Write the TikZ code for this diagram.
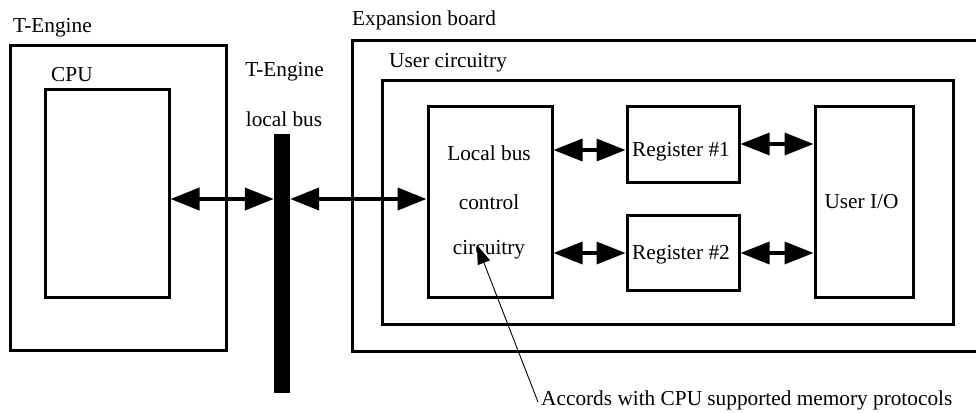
\documentclass[tikz,border=0pt]{standalone}
\usepackage{fontspec}
\setmainfont{Liberation Serif}
\usetikzlibrary{arrows.meta}
\begin{document}
\begin{tikzpicture}[x=1pt,y=-1pt,
  box/.style={draw, line width=3pt, inner sep=0pt},
  txt/.style={inner sep=0pt, font=\fontsize{21.3}{24}\selectfont},
  biarrow/.style={line width=3.5pt, {Triangle[length=29pt,width=22pt]}-{Triangle[length=29pt,width=22pt]}},
  leader/.style={line width=0.9pt, -{Triangle[length=19pt,width=13pt]}}]
\useasboundingbox (0,0) rectangle (976,412);
% T-Engine side
\node[box, minimum width=216pt, minimum height=304pt] (te) at (118,198) {};
\node[txt, anchor=west] (tetxt) at (13,28) {T-Engine};
\node[box, minimum width=124pt, minimum height=208pt] (cpu) at (107,193) {};
\node[txt, anchor=west] (cputxt) at (51,75) {CPU};
% bus
\node[fill=black, inner sep=0pt, minimum width=16pt, minimum height=259pt] (bus) at (282,263.5) {};
\node[txt] (bustxt1) at (284.5,72) {T-Engine};
\node[txt] (bustxt2) at (284,119) {local bus};
% expansion board
\draw[line width=3pt] (976,41) -| (352,351) -- (976,351);
\node[txt, anchor=west] (exptxt) at (352,20) {Expansion board};
\node[box, minimum width=571pt, minimum height=244pt] (uc) at (667.5,202) {};
\node[txt, anchor=west] (uctxt) at (389,63) {User circuitry};
\node[box, minimum width=124pt, minimum height=191pt] (lbc) at (490,201.5) {};
\node[txt] (lbct1) at (489,153) {Local bus};
\node[txt] (lbct2) at (489,202) {control};
\node[txt] (lbct3) at (489,250) {circuitry};
\node[box, minimum width=112pt, minimum height=76pt] (reg1) at (683,144) {};
\node[txt] (reg1t) at (681,152) {Register \#1};
\node[box, minimum width=112pt, minimum height=75pt] (reg2) at (683,252.5) {};
\node[txt] (reg2t) at (681,255) {Register \#2};
\node[box, minimum width=98pt, minimum height=191pt] (uio) at (864,201.5) {};
\node[txt] (uiot) at (861.5,202) {User I/O};
% arrows
\draw[biarrow, line width=4pt] (cpu.east |- 0,199) -- (bus.west |- 0,199);
\draw[biarrow, line width=4pt] (bus.east |- 0,199) -- (lbc.west |- 0,199);
\draw[biarrow] (lbc.east |- 0,150) -- (reg1.west |- 0,150);
\draw[biarrow] (reg1.east |- 0,144) -- (uio.west |- 0,144);
\draw[biarrow] (lbc.east |- 0,253) -- (reg2.west |- 0,253);
\draw[biarrow] (reg2.east |- 0,253) -- (uio.west |- 0,253);
% note
\node[txt, anchor=west] (note) at (541,400) {Accords with CPU supported memory protocols};
\coordinate (tip) at (477,245);
\draw[leader] ([xshift=-3pt,yshift=-2pt]note.west) -- (tip);
\end{tikzpicture}
\end{document}
